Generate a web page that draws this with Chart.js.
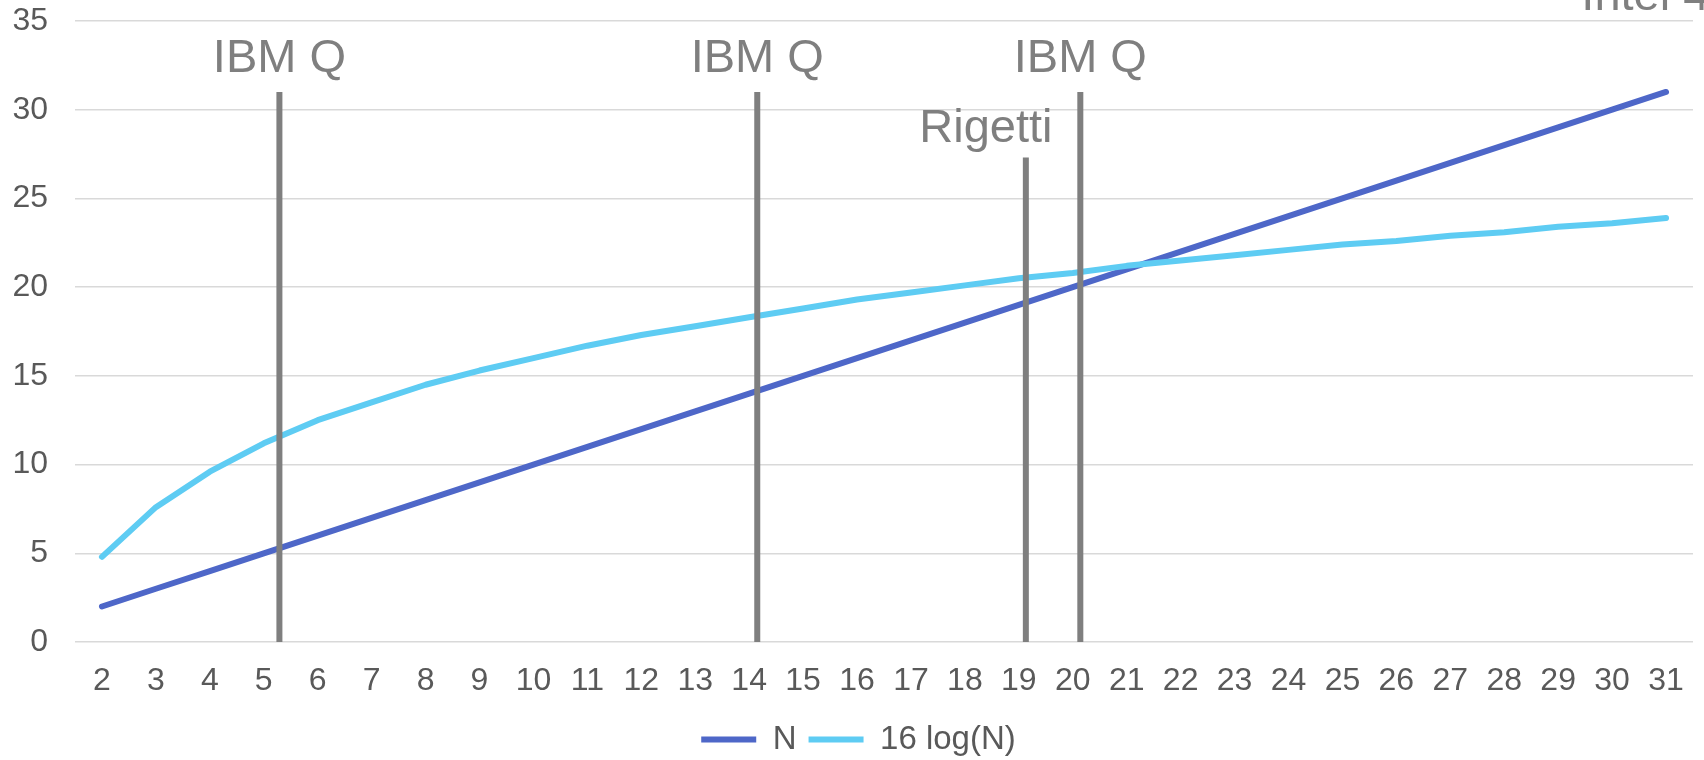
<!DOCTYPE html>
<html>
  <head>
    <title>N vs 16 log(N)</title>
    <script src="https://cdn.jsdelivr.net/npm/chart.js"></script>
    <style>
      body { margin: 0; background: #fff; }
    </style>
  </head>
  <body>
    <canvas id="qubitChart" width="1704" height="760"></canvas>

    <script>
      // x categories and the two series
      const categories = ["2","3","4","5","6","7","8","9","10","11","12","13","14","15","16",
                          "17","18","19","20","21","22","23","24","25","26","27","28","29","30","31"];
      const nValues = [2,3,4,5,6,7,8,9,10,11,12,13,14,15,16,17,18,19,20,21,22,23,24,25,26,27,28,29,30,31];
      const logValues = [4.8,7.6,9.6,11.2,12.5,13.5,14.5,15.3,16.0,16.7,17.3,17.8,18.3,18.8,19.3,
                         19.7,20.1,20.5,20.8,21.2,21.5,21.8,22.1,22.4,22.6,22.9,23.1,23.4,23.6,23.9];

      // hardware marker lines (position on the N axis, height of the bar)
      const markerX = [5.29, 14.15, 19.13, 20.14];
      const markerTop = [31, 31, 27.3, 31];

      // text notes
      const noteText = ["IBM Q", "IBM Q", "Rigetti", "IBM Q", "Intel 49"];
      const noteX = [5.29, 14.15, 18.39, 20.14, 29.43];
      const noteY = [32.1, 32.1, 28.2, 32.1, 35.6];
      const noteAlign = ["center", "center", "center", "center", "left"];

      const yTicks = [0, 5, 10, 15, 20, 25, 30, 35];

      const font = "'Liberation Sans', Arial, sans-serif";

      const markerSets = markerX.map((x, i) => ({
        label: "marker" + i,
        data: [{ x: x, y: -0.15 }, { x: x, y: markerTop[i] }],
        xAxisID: "x2",
        borderColor: "#7f7f7f",
        borderWidth: 6,
        pointRadius: 0,
        order: 0,
      }));

      const notesPlugin = {
        id: "notes",
        afterLayout(chart) {
          // nudge the legend down/right a little
          chart.legend.top += 6;
          chart.legend.bottom += 6;
          chart.legend.left += 12;
          chart.legend.right += 12;
        },
        afterDatasetsDraw(chart) {
          const ctx = chart.ctx;
          const xs = chart.scales.x2;
          const ys = chart.scales.y;
          ctx.save();
          ctx.fillStyle = "#7f7f7f";
          ctx.font = "47px " + font;
          ctx.textBaseline = "alphabetic";
          noteText.forEach((t, i) => {
            ctx.textAlign = noteAlign[i];
            ctx.fillText(t, xs.getPixelForValue(noteX[i]), ys.getPixelForValue(noteY[i]));
          });
          ctx.restore();
        },
      };

      new Chart(document.getElementById("qubitChart"), {
        type: "line",
        data: {
          labels: categories,
          datasets: [
            {
              label: "N",
              data: nValues,
              borderColor: "#4E67C8",
              backgroundColor: "#4E67C8",
              borderWidth: 6,
              borderCapStyle: "round",
              borderJoinStyle: "round",
              pointRadius: 0,
              order: 2,
            },
            {
              label: "16 log(N)",
              data: logValues,
              borderColor: "#5ECCF3",
              backgroundColor: "#5ECCF3",
              borderWidth: 6,
              borderCapStyle: "round",
              borderJoinStyle: "round",
              pointRadius: 0,
              order: 1,
            },
            ...markerSets,
          ],
        },
        options: {
          responsive: false,
          animation: false,
          layout: { padding: { top: 21, right: 11, left: 0, bottom: 0 } },
          scales: {
            x: {
              offset: true,
              grid: { display: false },
              border: { display: false },
              ticks: { color: "#595959", font: { family: font, size: 32 }, padding: 12, maxRotation: 0, autoSkip: false },
              afterFit: (s) => { s.height = 63; },
            },
            x2: {
              type: "linear",
              position: "bottom",
              min: 1.5,
              max: 31.5,
              display: false,
              ticks: { display: false },
              afterFit: (s) => { s.height = 0; },
            },
            y: {
              min: 0,
              max: 35,
              afterBuildTicks: (s) => { s.ticks = yTicks.map((v) => ({ value: v })); },
              // invisible tick marks keep the labels away from the plot
              grid: { color: "#d9d9d9", lineWidth: 1.5, drawTicks: true, tickLength: 27, tickColor: "rgba(0,0,0,0)" },
              border: { display: false },
              ticks: { color: "#595959", font: { family: font, size: 32 }, padding: 0 },
              afterFit: (s) => { s.width = 75; },
            },
          },
          plugins: {
            legend: {
              position: "bottom",
              labels: {
                filter: (item) => item.datasetIndex < 2,
                sort: (a, b) => a.datasetIndex - b.datasetIndex,
                usePointStyle: true,
                pointStyle: "line",
                pointStyleWidth: 55,
                color: "#595959",
                font: { family: font, size: 33 },
                padding: 12,
              },
            },
            tooltip: { enabled: false },
          },
        },
        plugins: [notesPlugin],
      });
    </script>
  </body>
</html>
